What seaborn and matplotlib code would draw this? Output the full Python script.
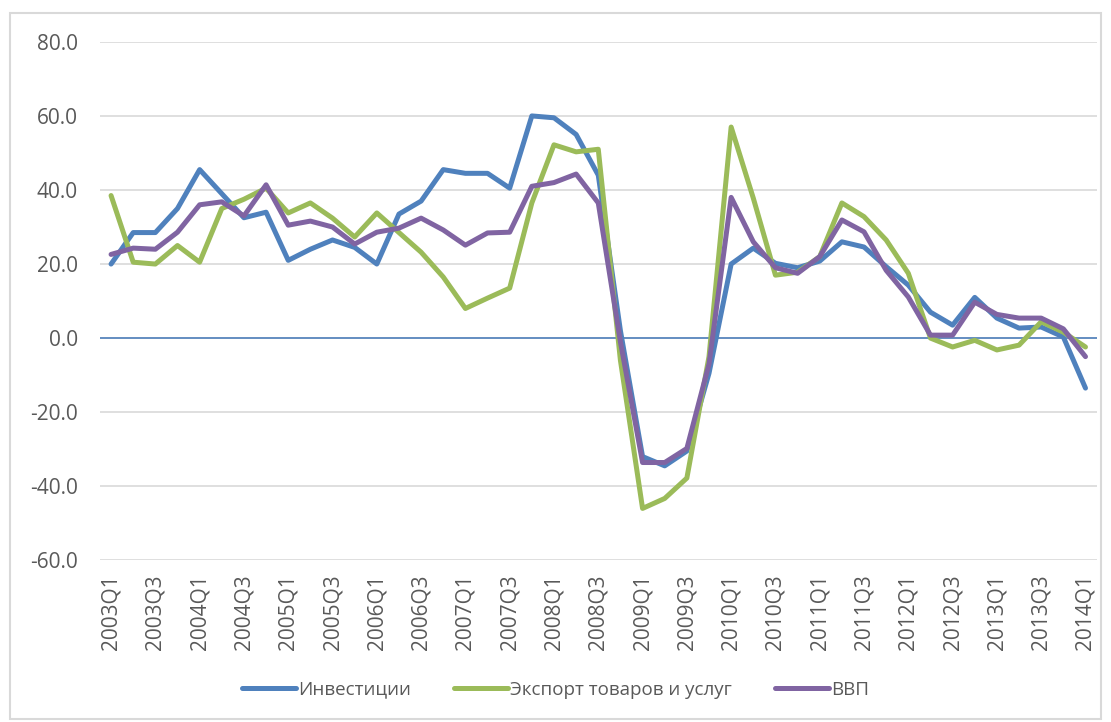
import numpy as np
import pandas as pd
import matplotlib
matplotlib.use('Agg')
import matplotlib.pyplot as plt
import seaborn as sns

quarters = [f'{y}Q{q}' for y in range(2003, 2014) for q in range(1, 5)] + ['2014Q1']

investments = [20, 28.5, 28.5, 35, 45.5, 39, 32.5, 34, 21, 24, 26.5, 24.5,
               20, 33.5, 37, 45.5, 44.5, 44.5, 40.5, 60, 59.5, 55, 44, 2,
               -32, -34.5, -30.5, -9.5, 20, 24.3, 20.2, 19, 20.8, 26, 24.6, 19.3,
               14.3, 7, 3.5, 11, 5.4, 2.7, 3, 0.3, -13.5]
exports = [38.5, 20.5, 20, 25, 20.5, 35, 37.5, 40.5, 33.8, 36.5, 32.4, 27.3,
           33.8, 28.5, 23.2, 16.5, 8, 10.8, 13.5, 36.5, 52.2, 50.3, 51, -6,
           -46, -43.3, -37.8, -5, 57, 37.8, 17, 17.8, 22, 36.5, 32.8, 26.5,
           17.5, 0, -2.4, -0.6, -3.2, -1.9, 4.4, 1.6, -2.4]
gdp = [22.6, 24.3, 24, 28.6, 36, 36.8, 33, 41.4, 30.5, 31.6, 30, 25.4,
       28.6, 29.7, 32.4, 29.2, 25.1, 28.4, 28.6, 41, 42, 44.3, 36.5, -1,
       -33.6, -33.6, -29.8, -7, 38, 26, 19, 17.5, 22, 31.9, 28.7, 18.3,
       11.1, 0.8, 0.8, 9.7, 6.4, 5.4, 5.4, 2.5, -5]

names = ['Инвестиции', 'Экспорт товаров и услуг', 'ВВП']
colors = ['#4f81bd', '#9bbb59', '#8064a2']

df = pd.DataFrame({'idx': np.arange(len(quarters)),
                   names[0]: investments, names[1]: exports, names[2]: gdp})
long = df.melt(id_vars='idx', var_name='series', value_name='value')

sns.set_theme(style='white')
plt.rcParams['font.family'] = ['Open Sans', 'DejaVu Sans']

fig = plt.figure(figsize=(11.11, 7.22), dpi=100)
ax = fig.add_axes([0.09, 0.224, 0.897, 0.718])

ax.axhline(0, color='#4f81bd', lw=1.2, zorder=1)
sns.lineplot(data=long, x='idx', y='value', hue='series', palette=colors,
             linewidth=3.6, ax=ax, legend=False, zorder=3)

ax.set_ylim(-60, 80)
ax.set_yticks(np.arange(-60, 81, 20))
ax.set_yticklabels([f'{v:.1f}' for v in np.arange(-60, 81, 20)], fontsize=15, color='#595959')
ax.set_xlim(-0.5, len(quarters) - 0.5)
ax.set_xticks(np.arange(0, len(quarters), 2))
ax.set_xticklabels(quarters[::2], rotation=90, fontsize=15, color='#595959')
ax.grid(axis='y', color='#d9d9d9', lw=1.2, zorder=0)
ax.tick_params(axis='y', length=0, pad=16)
ax.tick_params(axis='x', length=0, pad=10)
ax.set_xlabel('')
ax.set_ylabel('')
for s in ax.spines.values():
    s.set_visible(False)

handles = [plt.Line2D([0], [0], color=c, lw=3.6, solid_capstyle='round') for c in colors]
fig.legend(handles, names, loc='center', bbox_to_anchor=(0.5, 0.045), ncol=3,
           frameon=False, fontsize=13.5, handlelength=2.9, handletextpad=0.1,
           columnspacing=2.3, labelcolor='#595959')

fig.patches.append(plt.Rectangle((0.009, 0.004), 0.982, 0.978, transform=fig.transFigure,
                                 fill=False, edgecolor='#d9d9d9', lw=1.5))

fig.savefig('out.png', dpi=100)
